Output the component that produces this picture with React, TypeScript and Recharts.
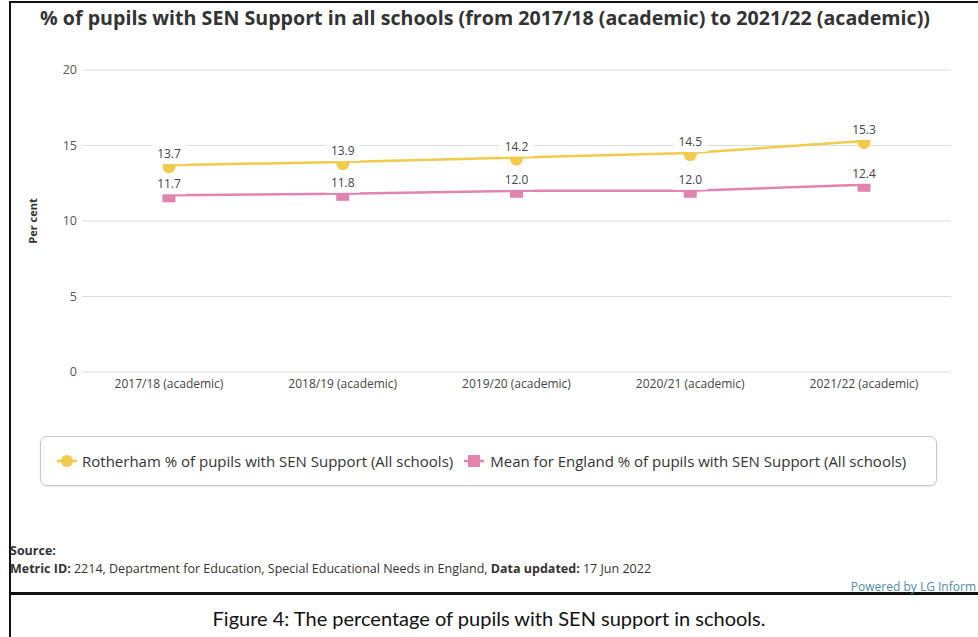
import React from 'react';
import { LineChart, Line, XAxis, YAxis, CartesianGrid, LabelList } from 'recharts';

const categories = ['2017/18 (academic)', '2018/19 (academic)', '2019/20 (academic)', '2020/21 (academic)', '2021/22 (academic)'];
const rotherham = [13.7, 13.9, 14.2, 14.5, 15.3];
const england = [11.7, 11.8, 12.0, 12.0, 12.4];
const yTicks = [0, 5, 10, 15, 20];

const data = categories.map((c, i) => ({ name: c, rotherham: rotherham[i], england: england[i] }));

const YELLOW = '#f2ca4c';
const PINK = '#e283b0';
const FONT = '"Open Sans", "Noto Sans", sans-serif';

const makeLabel = () => (props: any) => {
  const { x, y, value } = props;
  if (x == null || y == null) return null;
  const txt = Number(value).toFixed(1);
  return (
    <g>
      <rect x={x - 17} y={y - 21} width={34} height={20} fill="#fff" />
      <text x={x} y={y - 7} textAnchor="middle" fontSize={12} fill="#444" fontFamily={FONT}>{txt}</text>
    </g>
  );
};

const SquareDot = (props: any) => {
  const { cx, cy } = props;
  if (cx == null || cy == null) return null;
  return <rect x={cx - 6.5} y={cy - 5} width={13} height={12} fill={PINK} />;
};

const CircleDot = (props: any) => {
  const { cx, cy } = props;
  if (cx == null || cy == null) return null;
  return <circle cx={cx} cy={cy + 1.5} r={6.5} fill={YELLOW} />;
};

export default function App() {
  return (
    <div style={{ position: 'absolute', left: 0, top: 0, width: 978, height: 637, background: '#fff', overflow: 'hidden', fontFamily: FONT }}>
      {/* outer boxes */}
      <div style={{ position: 'absolute', left: 9, top: 1, width: 1000, height: 593, border: '2px solid #111', boxSizing: 'border-box' }} />
      <div style={{ position: 'absolute', left: 9, top: 593, width: 1000, height: 60, border: '2px solid #111', boxSizing: 'border-box' }} />

      <svg style={{ position: 'absolute', left: 0, top: 0 }} width={978} height={40}>
        <text x={40} y={25} textLength={890} lengthAdjust="spacingAndGlyphs" fontSize={20} fontWeight={700} fill="#333" fontFamily={FONT}>
          % of pupils with SEN Support in all schools (from 2017/18 (academic) to 2021/22 (academic))
        </text>
      </svg>

      <div style={{ position: 'absolute', left: 0, top: 0 }}>
        <LineChart width={978} height={420} data={data} margin={{ top: 70, right: 27, left: 0, bottom: 18 }}>
          <CartesianGrid vertical={false} stroke="#dddddd" />
          <XAxis dataKey="name" axisLine={false} tickLine={false} tickSize={0} tickMargin={7} height={30}
            padding={{ left: 87, right: 87 }}
            tick={{ fontSize: 12, fill: '#444', fontFamily: FONT }} interval={0} />
          <YAxis domain={[0, 20]} ticks={yTicks} width={82} axisLine={false} tickLine={false} tickSize={0} tickMargin={5}
            tick={{ fontSize: 12.5, fill: '#555', fontFamily: FONT }}
            label={{ value: 'Per cent', angle: -90, position: 'insideLeft', offset: 33, style: { fontSize: 11, fontWeight: 700, fill: '#333', fontFamily: FONT, textAnchor: 'middle' } }} />
          <Line dataKey="rotherham" stroke={YELLOW} strokeWidth={2.5} dot={<CircleDot />} activeDot={false} isAnimationActive={false}>
            <LabelList dataKey="rotherham" content={makeLabel()} />
          </Line>
          <Line dataKey="england" stroke={PINK} strokeWidth={2.5} dot={<SquareDot />} activeDot={false} isAnimationActive={false}>
            <LabelList dataKey="england" content={makeLabel()} />
          </Line>
        </LineChart>
      </div>

      {/* legend */}
      <div style={{ position: 'absolute', left: 40, top: 436, width: 897, height: 50, border: '1px solid #c8c8c8', borderRadius: 7, boxSizing: 'border-box', boxShadow: '0 1px 2px rgba(0,0,0,0.08)' }}>
        <div style={{ position: 'absolute', left: 16, top: 0, height: 48, display: 'flex', alignItems: 'center', fontSize: 15, color: '#333', whiteSpace: 'nowrap' }}>
          <svg width={20} height={14} style={{ marginRight: 5 }}>
            <line x1={0} y1={7} x2={20} y2={7} stroke={YELLOW} strokeWidth={2.5} />
            <circle cx={10} cy={7} r={6} fill={YELLOW} />
          </svg>
          <span>Rotherham % of pupils with SEN Support (All schools)</span>
          <svg width={20} height={14} style={{ marginLeft: 11, marginRight: 6 }}>
            <line x1={0} y1={7} x2={20} y2={7} stroke={PINK} strokeWidth={2.5} />
            <rect x={4} y={1} width={12} height={12} fill={PINK} />
          </svg>
          <span>Mean for England % of pupils with SEN Support (All schools)</span>
        </div>
      </div>

      {/* source */}
      <div style={{ position: 'absolute', left: 10, top: 542, fontSize: 12.5, color: '#333', lineHeight: '18px', whiteSpace: 'nowrap' }}>
        <div style={{ fontWeight: 700 }}>Source:</div>
        <div><b>Metric ID:</b> 2214, Department for Education, Special Educational Needs in England, <b>Data updated:</b> 17 Jun 2022</div>
      </div>
      <div style={{ position: 'absolute', right: 2, top: 578, fontSize: 12, color: '#4d8bab', whiteSpace: 'nowrap' }}>Powered by LG Inform</div>

      {/* caption */}
      <div style={{ position: 'absolute', left: 0, width: 978, top: 606, textAlign: 'center', fontSize: 20, color: '#111', fontFamily: 'Lato, "Noto Sans", sans-serif' }}>
        Figure 4: The percentage of pupils with SEN support in schools.
      </div>
    </div>
  );
}
